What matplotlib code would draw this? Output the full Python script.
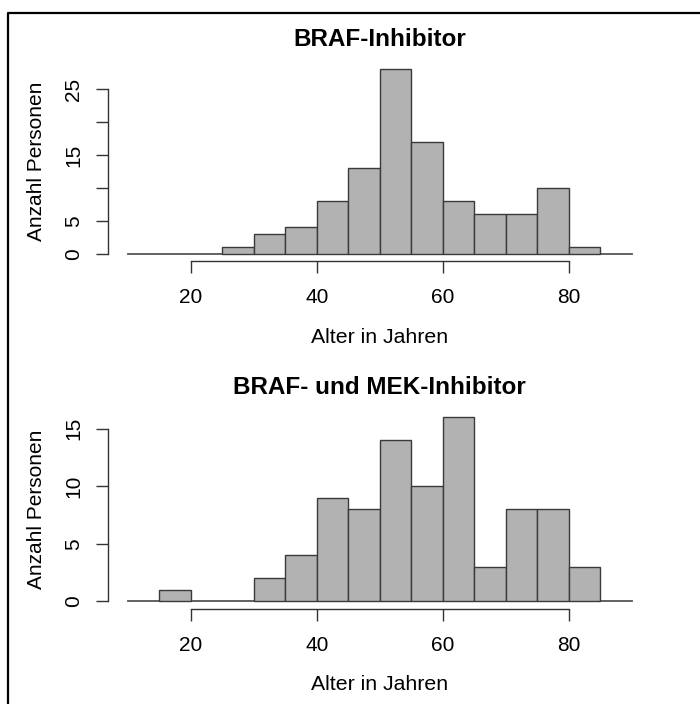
import matplotlib
matplotlib.use("Agg")
import matplotlib.pyplot as plt
from matplotlib.lines import Line2D
import numpy as np

plt.rcParams["font.family"] = ["Liberation Sans", "DejaVu Sans"]

# Age histograms, bin width 5 years
braf_edges = [25, 30, 35, 40, 45, 50, 55, 60, 65, 70, 75, 80, 85]
braf_counts = [1, 3, 4, 8, 13, 28, 17, 8, 6, 6, 10, 1]

combo_edges = [15, 20, 25, 30, 35, 40, 45, 50, 55, 60, 65, 70, 75, 80, 85]
combo_counts = [1, 0, 0, 2, 4, 9, 8, 14, 10, 16, 3, 8, 8, 3]

titles = ["BRAF-Inhibitor", "BRAF- und MEK-Inhibitor"]
x_label = "Alter in Jahren"
y_label = "Anzahl Personen"
x_ticks = [20, 40, 60, 80]
y_ticks_top = [0, 5, 10, 15, 20, 25]
y_labels_top = ["0", "5", "", "15", "", "25"]
y_ticks_bottom = [0, 5, 10, 15]
y_labels_bottom = ["0", "5", "10", "15"]

W, H = 700, 704
DPI = 100
fig = plt.figure(figsize=(W / DPI, H / DPI), dpi=DPI)


def fy(py):
    return 1 - py / H


def fx(px):
    return px / W


def panel(rect, edges, counts, ymax, yticks, ylabels, title, ys):
    ax = fig.add_axes(rect)
    edges = np.asarray(edges)
    counts = np.asarray(counts)
    keep = counts > 0
    ax.bar(edges[:-1][keep], counts[keep], width=np.diff(edges)[keep],
           align="edge", color="#b2b2b2", edgecolor="#3a3a3a",
           linewidth=1.0, zorder=2)
    ax.plot([10, 90], [0, 0], color="#555555", linewidth=1.3, zorder=1)

    # R-style axis extents: 4% padding around the data range
    ax.set_xlim(10 - 0.04 * 80, 90 + 0.04 * 80)
    ax.set_ylim(-0.04 * ymax, ymax * 1.04)

    for s in ["top", "right"]:
        ax.spines[s].set_visible(False)
    ax.spines["left"].set_bounds(yticks[0], yticks[-1])
    ax.spines["bottom"].set_bounds(x_ticks[0], x_ticks[-1])
    for s in ["left", "bottom"]:
        ax.spines[s].set_color("#333333")
        ax.spines[s].set_linewidth(1.0)

    ax.set_xticks(x_ticks)
    ax.set_yticks(yticks)
    ax.set_yticklabels(ylabels, rotation=90, va="center")
    ax.tick_params(axis="both", length=8.5, width=1.0, color="#333333",
                   labelsize=15)
    ax.tick_params(axis="x", pad=11)
    ax.tick_params(axis="y", pad=9)

    cx = rect[0] + rect[2] / 2
    t_y, xl_y, yl_y = ys
    fig.text(cx, fy(t_y), title, ha="center", va="center",
             fontsize=17.5, fontweight="bold")
    fig.text(cx, fy(xl_y), x_label, ha="center", va="center", fontsize=15.3)
    fig.text(fx(37), fy(yl_y), y_label, ha="center", va="center",
             fontsize=15, rotation=90)
    return ax


left = 107.5 / W
width = (652 - 107.5) / W
panel([left, fy(261), width, (261 - 62) / H], braf_edges, braf_counts, 28,
      y_ticks_top, y_labels_top, titles[0], (40, 337, 161))
panel([left, fy(608.5), width, (608.5 - 410) / H], combo_edges, combo_counts, 16,
      y_ticks_bottom, y_labels_bottom, titles[1], (387, 685, 509))

# outer frame: left and top edges
fig.add_artist(Line2D([fx(7.5), fx(7.5), 1], [0, fy(12.5), fy(12.5)],
                      color="black", linewidth=1.6))

fig.savefig("out.png", dpi=DPI)
